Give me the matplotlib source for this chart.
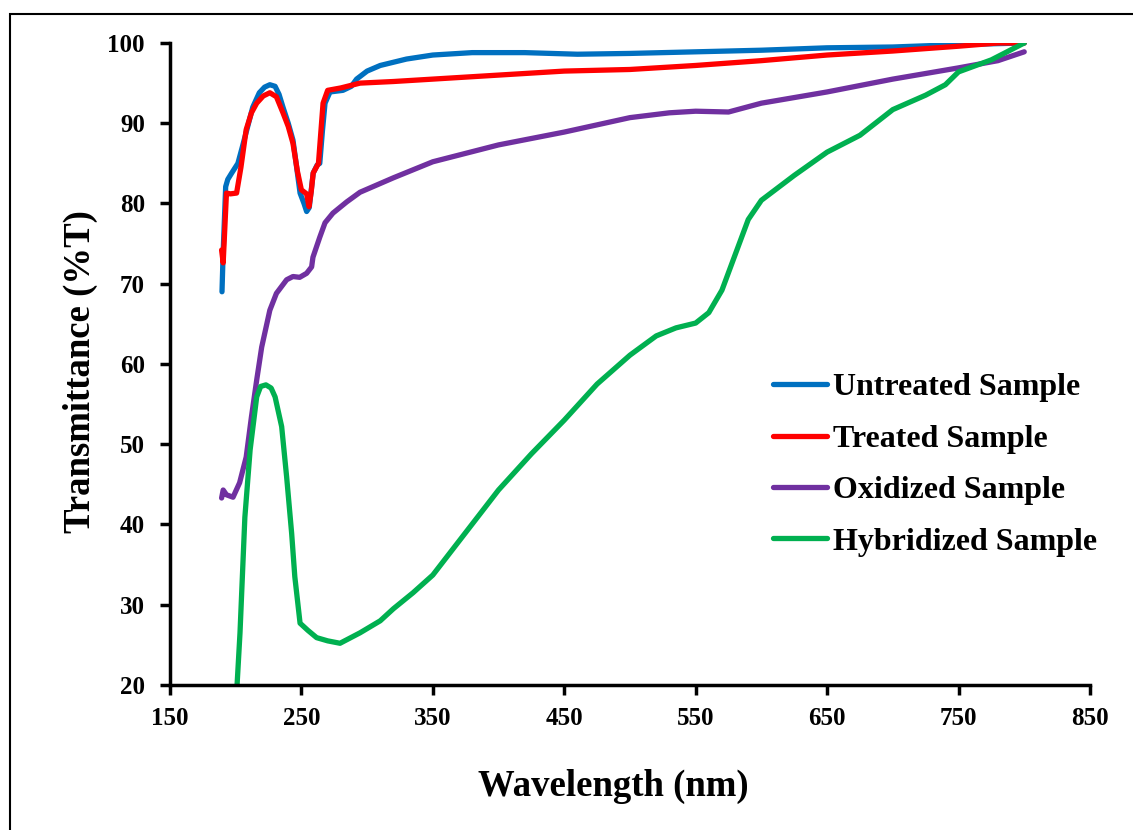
import matplotlib
matplotlib.use("Agg")
import matplotlib.pyplot as plt
from matplotlib.patches import Rectangle

# wavelength (nm) / transmittance (%T)
untreated_x = [189.6, 190.5, 192.4, 194, 197, 201.7, 205, 209, 213, 218, 222, 226, 230, 233, 236, 240,
               243.6, 246, 249, 252, 254, 256, 259, 262, 264, 266, 268, 271.8, 281.6, 288, 292, 296,
               300, 310, 330, 350, 380, 420, 460, 500, 550, 600, 650, 700, 750, 800]
untreated_y = [69.0, 74, 82.1, 83, 83.8, 85, 87, 89.5, 92, 93.8, 94.5, 94.8, 94.6, 93.6, 92, 90,
               87.9, 85, 81.3, 80, 79, 79.5, 83.8, 84.8, 85, 89, 92.5, 93.9, 94.1, 94.6, 95.5, 96,
               96.5, 97.2, 98, 98.5, 98.8, 98.8, 98.6, 98.7, 98.9, 99.1, 99.4, 99.5, 99.8, 100]

treated_x = [189.3, 190.5, 193, 196, 200.7, 204, 208, 212, 216, 221, 226, 231, 236, 240, 243.6, 247,
             250, 254, 255.8, 257.5, 259, 263, 266.5, 270, 280, 294.6, 320, 350, 400, 450, 500, 550,
             600, 650, 700, 750, 780, 800]
treated_y = [74.2, 72.6, 81.3, 81.2, 81.3, 84.5, 89.2, 91.3, 92.5, 93.4, 93.8, 93.3, 91.3, 89.6, 87.5, 84,
             81.7, 81.2, 79.6, 81.5, 83.8, 85, 92.5, 94.1, 94.4, 95.0, 95.2, 95.5, 96, 96.5, 96.7, 97.2,
             97.8, 98.5, 99, 99.6, 100, 100]

oxidized_x = [189.3, 190.5, 193, 198, 203, 208, 212, 216, 219.8, 226, 231, 238.8, 243.6, 248.7, 254,
              257.8, 258.8, 264, 268, 274, 284.5, 294.6, 320, 350, 400, 450, 500, 530, 550, 575, 600,
              650, 700, 750, 780, 800]
oxidized_y = [43.3, 44.3, 43.7, 43.4, 45.2, 48.4, 53.4, 58, 62.1, 66.7, 68.8, 70.5, 70.9, 70.8, 71.3,
              72.1, 73.3, 75.8, 77.6, 78.8, 80.2, 81.4, 83.2, 85.2, 87.3, 88.9, 90.7, 91.3, 91.5, 91.4, 92.5,
              93.9, 95.5, 96.9, 97.8, 98.9]

hybridized_x = [201, 203.3, 207, 211, 216, 219, 223, 227, 230, 235, 238.8, 242.6, 245, 249, 255, 261.6,
                270, 279.4, 294.6, 310, 320, 335, 350, 375, 400, 425, 450, 475, 500, 520, 535, 550,
                560, 570, 580, 590, 600, 625, 650, 675, 700, 725, 740, 750, 775, 800]
hybridized_y = [19.8, 26.5, 40.9, 49.3, 55.9, 57.2, 57.4, 57, 55.9, 52.2, 45.9, 38.9, 33.5, 27.7, 26.8, 25.9,
                25.5, 25.2, 26.5, 28, 29.5, 31.5, 33.7, 39, 44.3, 48.8, 53, 57.5, 61.1, 63.5, 64.5, 65.1,
                66.4, 69.2, 73.6, 78, 80.4, 83.5, 86.4, 88.5, 91.7, 93.5, 94.8, 96.4, 97.9, 100]

series = [
    ("Untreated Sample", untreated_x, untreated_y, "#0070C0"),
    ("Treated Sample", treated_x, treated_y, "#FF0000"),
    ("Oxidized Sample", oxidized_x, oxidized_y, "#7030A0"),
    ("Hybridized Sample", hybridized_x, hybridized_y, "#00B050"),
]

plt.rcParams['font.family'] = ['Liberation Serif', 'DejaVu Serif']
plt.rcParams['font.weight'] = 'bold'

fig = plt.figure(figsize=(11.33, 8.30), dpi=100)
ax = fig.add_axes([0.150, 0.1747, 0.812, 0.7735])

# outer frame (cut off at right and bottom like the original)
fig.patches.append(Rectangle((10 / 1133, -0.5), 2, 0.5 + 1 - 14 / 830, transform=fig.transFigure,
                             fill=False, edgecolor='black', linewidth=1.5))

for name, xs, ys, col in series:
    ax.plot(xs, ys, color=col, lw=3.8, label=name, solid_capstyle='round')

ax.set_xlim(150, 850)
ax.set_ylim(20, 100)
ax.set_xticks(range(150, 851, 100))
ax.set_yticks(range(20, 101, 10))
for s in ['top', 'right']:
    ax.spines[s].set_visible(False)
for s in ['left', 'bottom']:
    ax.spines[s].set_linewidth(2.5)
ax.tick_params(direction='out', length=7, width=2.5, labelsize=18)
ax.tick_params(axis='y', pad=11)
ax.tick_params(axis='x', pad=9)

ax.set_xlabel("Wavelength (nm)", fontsize=26.5, fontweight='bold')
ax.set_ylabel("Transmittance (%T)", fontsize=26.5, fontweight='bold')
ax.xaxis.set_label_coords(0.4815, -0.130)
ax.yaxis.set_label_coords(-0.078, 0.4875)

ax.legend(loc='center left', bbox_to_anchor=(0.655, 0.343), frameon=False, fontsize=23,
          handlelength=1.72, handletextpad=0.16, labelspacing=0.69, borderpad=0, borderaxespad=0)

fig.savefig("out.png", dpi=100)
